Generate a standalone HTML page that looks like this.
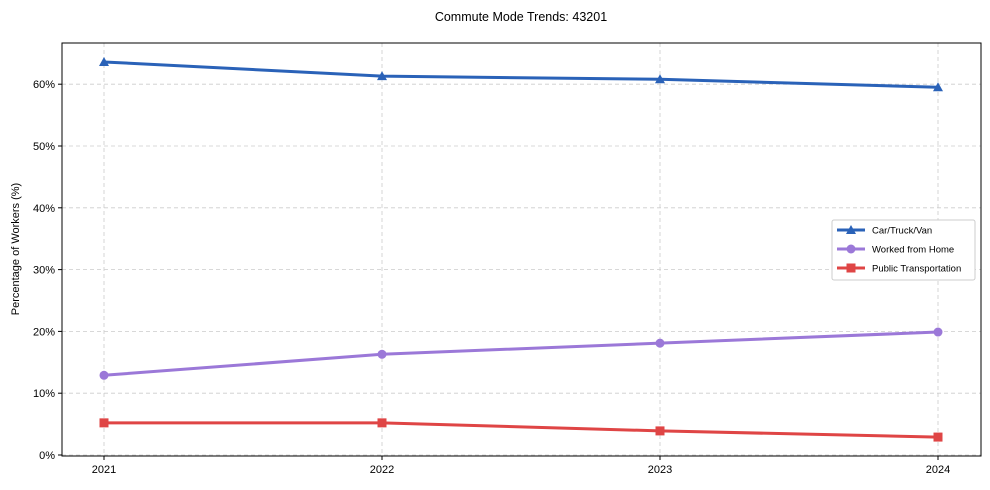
<!DOCTYPE html>
<html><head><meta charset="utf-8"><style>
body{margin:0;background:#fff;}
svg{display:block;font-family:"Liberation Sans",Arial,sans-serif;}
</style></head><body>
<svg id="chart" width="990" height="490" viewBox="0 0 990 490">
<text x="521" y="21" text-anchor="middle" font-size="12.5" fill="#000">Commute Mode Trends: 43201</text>
<g id="grid"></g>
<g id="axes"></g>
<g id="series"></g>
<text transform="translate(19,249) rotate(-90)" text-anchor="middle" font-size="11">Percentage of Workers (%)</text>
<g id="legend"></g>
</svg>
<script>
const categories = ["2021","2022","2023","2024"];
const carValues = [63.6, 61.3, 60.8, 59.5];
const wfhValues = [12.9, 16.3, 18.1, 19.9];
const ptValues = [5.2, 5.2, 3.9, 2.9];
const yTicks = [0,10,20,30,40,50,60];
const seriesNames = ["Car/Truck/Van","Worked from Home","Public Transportation"];

const L=62,R=981,T=43,B=456;
const x0=104,x1=938;
const ns="http://www.w3.org/2000/svg";
function X(i){return x0+(x1-x0)*i/(categories.length-1);}
function Y(v){return 455-v*6.18;}
function mk(tag,attrs,parent){const e=document.createElementNS(ns,tag);for(const k in attrs)e.setAttribute(k,attrs[k]);parent.appendChild(e);return e;}
const grid=document.getElementById('grid'),axes=document.getElementById('axes'),ser=document.getElementById('series'),leg=document.getElementById('legend');
categories.forEach((c,i)=>{
 const g=mk('line',{x1:X(i),x2:X(i),y1:T,y2:B,stroke:'#ccc','stroke-dasharray':'4,3','stroke-width':0.8},grid);
 
 
 const t=mk('line',{x1:X(i),x2:X(i),y1:B,y2:B+4,stroke:'#000'},axes);
 
 
 const tx=mk('text',{x:X(i),y:B+17,'text-anchor':'middle','font-size':11},axes);tx.textContent=c;
 
 
});
yTicks.forEach(v=>{
 const g=mk('line',{x1:L,x2:R,y1:Y(v),y2:Y(v),stroke:'#ccc','stroke-dasharray':'4,3','stroke-width':0.8},grid);
 
 
 const t=mk('line',{x1:L-4,x2:L,y1:Y(v),y2:Y(v),stroke:'#000'},axes);
 
 
 const tx=mk('text',{x:L-7,y:Y(v)+4,'text-anchor':'end','font-size':11},axes);tx.textContent=v+'%';
 
 
});
const frame=mk('rect',{x:L,y:T,width:R-L,height:B-T,fill:'none',stroke:'#000','stroke-width':1},axes);


function marker(type,cx,cy,color,parent){
 let m;
 if(type==='tri')m=mk('polygon',{points:`${cx},${cy-5} ${cx-5},${cy+4} ${cx+5},${cy+4}`,fill:color},parent);
 else if(type==='circ')m=mk('circle',{cx:cx,cy:cy,r:4.5,fill:color},parent);
 else m=mk('rect',{x:cx-4.5,y:cy-4.5,width:9,height:9,fill:color},parent);
 return m;
}
const defs=[[carValues,'#2a62b8','tri','car'],[wfhValues,'#9b78d8','circ','wfh'],[ptValues,'#df4545','sq','public-transport']];
defs.forEach(([vals,col,mt,nm])=>{
 const p=mk('polyline',{points:vals.map((v,i)=>X(i)+','+Y(v)).join(' '),fill:'none',stroke:col,'stroke-width':3},ser);
 
 
 vals.forEach((v,i)=>{const m=marker(mt,X(i),Y(v),col,ser);
  
  });
});
const lb=mk('rect',{x:832,y:220,width:143,height:60,fill:'#fff',stroke:'#ccc',rx:2},leg);


defs.forEach(([vals,col,mt,nm],i)=>{
 const y=230+i*19;
 const l=mk('line',{x1:837,x2:865,y1:y,y2:y,stroke:col,'stroke-width':3},leg);
 
 
 marker(mt,851,y,col,leg);
 const t=mk('text',{x:872,y:y+3.5,'font-size':9.5},leg);t.textContent=seriesNames[i];
 
 
});
</script>
</body></html>
